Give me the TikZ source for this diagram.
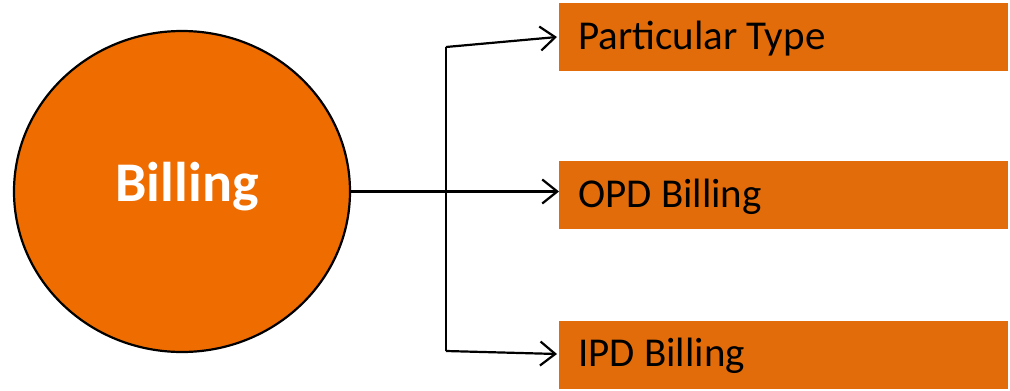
\documentclass[tikz,border=0pt]{standalone}
\usepackage{fontspec}
\setmainfont{Carlito}
\usetikzlibrary{arrows.meta,shapes.geometric}
\definecolor{circfill}{HTML}{EE6C00}
\definecolor{boxfill}{HTML}{E36C0A}
\tikzset{
  boxstyle/.style={fill=boxfill, draw=none, minimum width=449pt, minimum height=68pt, inner sep=0pt},
  boxtext/.style={anchor=west, font=\fontsize{41}{45}\selectfont, text=black, inner sep=0pt},
  conn/.style={draw=black, line width=2.2pt},
  arr/.style={conn, -{Straight Barb[length=15pt, width=24pt, line width=2.2pt]}}
}
\begin{document}
\begin{tikzpicture}[x=1pt, y=-1pt]
\useasboundingbox (0,0) rectangle (1010,391);
\node[ellipse, minimum width=336pt, minimum height=321pt, fill=circfill, draw=black, line width=2.2pt, inner sep=0pt] (bill) at (182,191.5) {};
\node[font=\fontsize{56}{60}\selectfont\bfseries, text=white] (billt) at (187,187) {Billing};
\node[boxstyle, anchor=north west] (b1) at (559,3) {};
\node[boxstyle, anchor=north west] (b2) at (559,161) {};
\node[boxstyle, anchor=north west] (b3) at (559,321) {};
\node[boxtext] (t1) at (578,39) {Particular Type};
\node[boxtext] (t2) at (578,197) {OPD Billing};
\node[boxtext] (t3) at (578,356) {IPD Billing};
\coordinate (vt) at (446,47);
\coordinate (vb) at (446,351);
\coordinate (e1) at (557,37);
\coordinate (e3) at (557,354);
\draw[conn] (vt) -- (vb);
\draw[arr] (bill.east) -- (bill.east -| b2.west);
\draw[arr] (vt) -- (e1);
\draw[arr] (vb) -- (e3);
\end{tikzpicture}
\end{document}
